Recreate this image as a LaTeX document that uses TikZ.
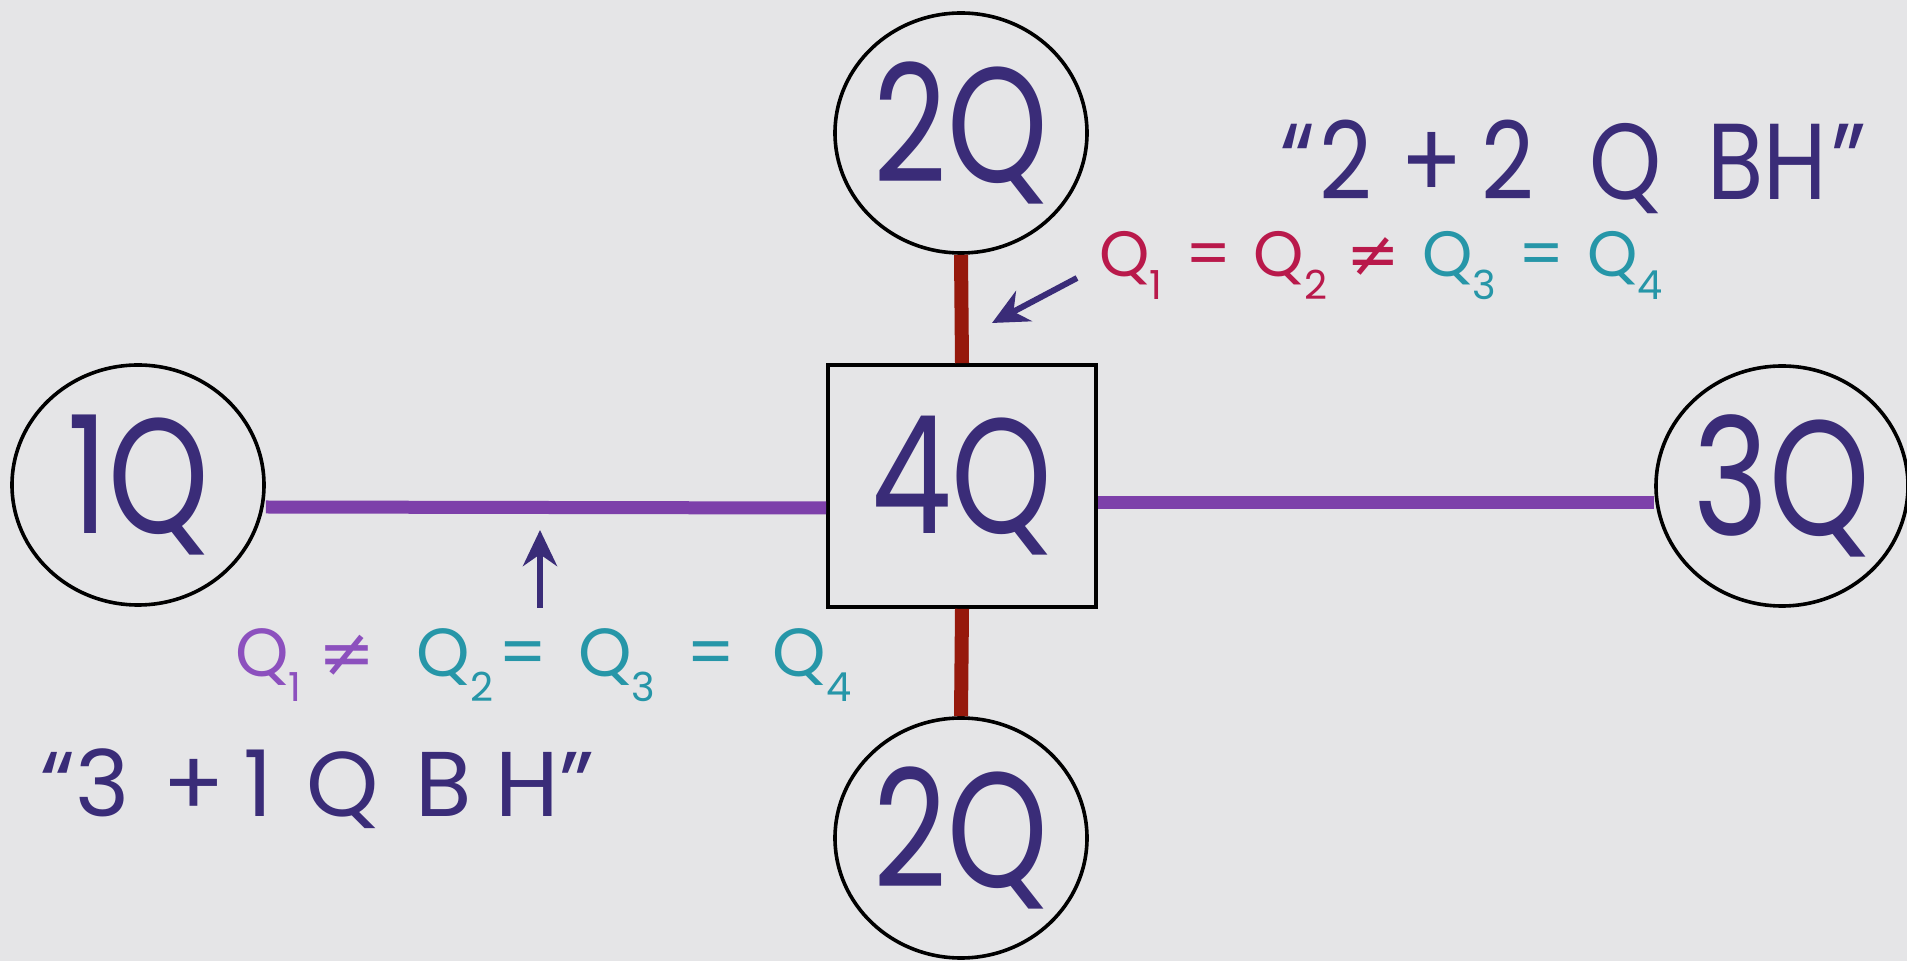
\documentclass[tikz,border=0pt]{standalone}
\usepackage{fontspec}
\setmainfont{Poppins}
\newfontfamily\symf{DejaVu Sans}
\usetikzlibrary{shapes.geometric,arrows.meta}
\definecolor{paper}{RGB}{229,229,231}
\definecolor{ink}{RGB}{58,44,120}
\definecolor{lilac}{RGB}{125,64,170}
\definecolor{rust}{RGB}{150,25,12}
\definecolor{rose}{RGB}{185,25,75}
\definecolor{teal2}{RGB}{38,150,168}
\definecolor{violet2}{RGB}{140,80,190}
\newcommand{\hw}[1]{\scalebox{0.78}[1]{#1}}
\newcommand{\Qs}[1]{Q\raisebox{-0.65ex}{\fontsize{20}{20}\selectfont #1}}
\newcommand{\gp}{\hspace{0.35em}}
\tikzset{
  x=0.5pt,y=-0.5pt,
  bigfont/.style={font=\fontsize{82}{82}\selectfont},
  ball/.style={ellipse,draw=black,line width=1.8pt,minimum width=126pt,minimum height=120pt,inner sep=0pt,text=ink,bigfont},
  box/.style={rectangle,draw=black,line width=1.8pt,minimum width=134pt,minimum height=121pt,inner sep=0pt,text=ink,bigfont},
  purplink/.style={draw=lilac,line width=6.5pt},
  redlink/.style={draw=rust,line width=7pt},
  pointer/.style={draw=ink,line width=3pt,-{Stealth[length=18pt,width=17pt]}},
  eqn/.style={anchor=base west,inner sep=0pt},
  title/.style={anchor=base west,inner sep=0pt,text=ink},
}
\begin{document}
\begin{tikzpicture}
\fill[paper] (0,0) rectangle (1907,961);
\useasboundingbox (0,0) rectangle (1907,961);
% nodes
\node[ball] (top) at (961,133) {\hw{2Q}};
\node[ball] (bot) at (961,838) {\hw{2Q}};
\node[ball] (left) at (138,485) {\hw{1Q}};
\node[ball] (right) at (1782,486) {\hw{3Q}};
\node[box] (sq) at (962,486) {\hw{4Q}};
% connectors
\draw[redlink] (top.south) -- (sq.north);
\draw[redlink] (sq.south) -- (bot.north);
\draw[purplink] ([yshift=-11pt]left.east) -- ([yshift=-11pt]sq.west);
\draw[purplink] ([yshift=-8.5pt]sq.east) -- ([yshift=-8.5pt]right.west);
% pointers
\coordinate (p1s) at (540,608);
\coordinate (p1e) at (540,530);
\draw[pointer] (p1s) -- (p1e);
\coordinate (p2s) at (1077,278);
\coordinate (p2e) at (992,323);
\draw[pointer] (p2s) -- (p2e);
% labels
\node[eqn,font=\fontsize{32}{32}\selectfont] (eqtop) at (1099,277)
  {{\color{rose}\Qs{1}\gp=\gp\Qs{2}\hspace{0.3em}{\symf ≠}}\gp{\color{teal2}\Qs{3}\gp=\gp\Qs{4}}};
\node[eqn,font=\fontsize{34}{34}\selectfont] (eqbot) at (235,677)
  {{\color{violet2}\Qs{1}\hspace{0.25em}{\symf ≠}}\hspace{0.6em}{\color{teal2}\Qs{2}\hspace{0.08em}=\hspace{0.45em}\Qs{3}\hspace{0.45em}=\hspace{0.55em}\Qs{4}}};
\node[title,font=\fontsize{54}{54}\selectfont] (t22) at (1280,200)
  {\scalebox{0.85}[1]{“\hspace{0.05em}2\hspace{0.3em}+\hspace{0.2em}2\hspace{0.6em}Q\hspace{0.5em}BH\hspace{0.05em}”}};
\node[title,font=\fontsize{46}{46}\selectfont] (t31) at (40,817)
  {“3\hspace{0.36em}+\hspace{0.2em}1\hspace{0.36em}Q\hspace{0.4em}B\hspace{0.26em}H”};
\end{tikzpicture}
\end{document}
